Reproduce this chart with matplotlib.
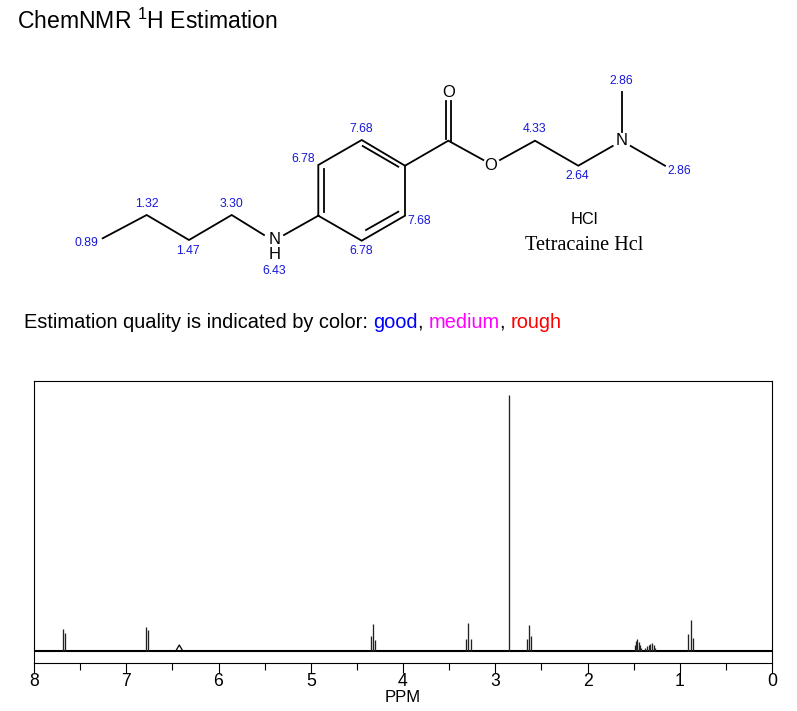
"""ChemNMR 1H estimation sheet for tetracaine HCl: structure drawing on top, spectrum below."""

import matplotlib
matplotlib.use("Agg")
import matplotlib.pyplot as plt

plt.rcParams["font.family"] = ["Liberation Sans", "DejaVu Sans"]
plt.rcParams["mathtext.fontset"] = "custom"
plt.rcParams["mathtext.rm"] = "Liberation Sans"
plt.rcParams["mathtext.default"] = "rm"

# sticks of the spectrum, ppm and height (height of 2.86 is about 256)
peak_ppm = [7.689, 7.664,
            6.783, 6.760,
            4.350, 4.325, 4.300,
            3.317, 3.292, 3.266,
            2.854,
            2.659, 2.634, 2.609,
            1.488, 1.474, 1.460, 1.445, 1.431, 1.417,
            1.373, 1.355, 1.337, 1.319, 1.301, 1.283, 1.265,
            0.907, 0.881, 0.856]
peak_height = [22, 18,
               24, 21,
               15, 27, 11,
               12, 28, 12,
               256,
               12, 26, 15,
               6, 10, 12, 9, 6, 3,
               3, 5, 6, 7, 8, 6, 3,
               17, 31, 13]

# broad NH hump
hump_ppm = [6.46, 6.425, 6.39]
hump_height = [0, 5.5, 0]

major_ticks = [8, 7, 6, 5, 4, 3, 2, 1, 0]
minor_ticks = [7.5, 6.5, 5.5, 4.5, 3.5, 2.5, 1.5, 0.5]

# structure, in picture coordinates
chain_x = [102.7, 146.7, 189, 231.7, 264]
chain_y = [238.3, 215, 240, 215, 235]
ring_x = [318.3, 318.3, 361.7, 405, 405, 361.7, 318.3]
ring_y = [215.7, 165, 140, 165.7, 215.7, 240.7, 215.7]
ester_x = [405, 448.3, 483.3]
ester_y = [165.7, 140.7, 160]
ethyl_x = [500, 535, 578.3, 612.7]
ethyl_y = [160, 140.7, 165.7, 146]

bond_x0 = [284, 630.7, 621.7, 445.7, 451, 324, 362.7, 366]
bond_y0 = [235, 146, 131.7, 139.3, 141.7, 169, 146, 230]
bond_x1 = [318.3, 665, 621.7, 445.7, 451, 324, 398.3, 398.3]
bond_y1 = [215.7, 165.7, 92.3, 100.7, 100.7, 211.7, 166.7, 211.7]

atom_labels = ["N", "H", "O", "O", "N"]
atom_x = [275, 275, 448.3, 491, 621.7]
atom_y = [240, 254.5, 92.5, 165.5, 140.5]

shift_labels = ["0.89", "1.32", "1.47", "3.30", "6.43", "6.78", "7.68", "7.68",
                "6.78", "4.33", "2.64", "2.86", "2.86"]
shift_x = [86, 147, 188.3, 231.3, 274.3, 302.7, 361.3, 419.3, 361.3, 534.3, 577.7, 621, 679]
shift_y = [243.3, 204, 251, 204, 271.3, 159.3, 129, 220.7, 250.7, 129.3, 176, 80.7, 170.7]

quality_parts = ["Estimation quality is indicated by color: ", "good", ", ", "medium", ", ", "rough"]
quality_colors = ["black", "#0000ff", "black", "#ff00ff", "black", "#ff0000"]


def draw_structure(ax):
    for xs, ys in [(chain_x, chain_y), (ring_x, ring_y), (ester_x, ester_y), (ethyl_x, ethyl_y)]:
        ax.plot(xs, ys, color="black", lw=1.3, solid_joinstyle="miter")
    for x0, y0, x1, y1 in zip(bond_x0, bond_y0, bond_x1, bond_y1):
        ax.plot([x0, x1], [y0, y1], color="black", lw=1.3)
    for lab, x, y in zip(atom_labels, atom_x, atom_y):
        ax.text(x, y, lab, fontsize=12, ha="center", va="center", color="black")
    for lab, x, y in zip(shift_labels, shift_x, shift_y):
        ax.text(x, y, lab, fontsize=8.8, ha="center", va="center", color="#1818d8")
    ax.text(584, 219, "HCl", fontsize=11.8, ha="center", va="center")
    ax.text(584, 245.5, "Tetracaine Hcl", fontsize=14.6, ha="center", va="center",
            family=["Liberation Serif"])


def draw_header(fig, ax):
    ax.text(17, 21, "ChemNMR $^{1}$H Estimation", fontsize=16.6, ha="left", va="center")

    # the quality line has coloured words, so lay the pieces end to end
    fig.canvas.draw()
    renderer = fig.canvas.get_renderer()
    size = 14.4
    y = 322
    x = 24
    for part, col in zip(quality_parts, quality_colors):
        t = ax.text(x, y, part, fontsize=size, color=col, ha="left", va="center")
        box = t.get_window_extent(renderer)
        # trailing spaces are not always counted in the extent
        if part.endswith(" "):
            probe = ax.text(x, y, part.rstrip() + " .", fontsize=size, alpha=0)
            dot = ax.text(0, y, ".", fontsize=size, alpha=0)
            x += probe.get_window_extent(renderer).width - dot.get_window_extent(renderer).width
            probe.remove()
            dot.remove()
        else:
            x += box.width


def draw_spectrum(ax):
    ax.plot([8, 0], [0, 0], color="black", lw=1.5)
    ax.vlines(peak_ppm, 0, peak_height, color="#222222", lw=0.95)
    ax.plot(hump_ppm, hump_height, color="black", lw=0.9)

    ax.set_xlim(8, 0)
    ax.set_ylim(-12.5, 269.5)
    ax.set_yticks([])
    ax.set_xticks(major_ticks)
    ax.set_xticks(minor_ticks, minor=True)
    ax.tick_params(axis="x", which="major", length=7.2, width=0.8, labelsize=12.7, pad=0)
    ax.tick_params(axis="x", which="minor", length=5, width=0.8)
    ax.set_xlabel("PPM", fontsize=12, labelpad=0)
    for spine in ax.spines.values():
        spine.set_linewidth(0.8)


def main():
    w, h = 797, 711
    fig = plt.figure(figsize=(w / 100, h / 100), dpi=100)

    top = fig.add_axes([0, 0, 1, 1])
    top.set_xlim(0, w)
    top.set_ylim(h, 0)
    top.axis("off")

    ax = fig.add_axes([34 / w, (h - 663) / h, (772 - 34) / w, (663 - 381) / h])

    draw_structure(top)
    draw_header(fig, top)
    draw_spectrum(ax)

    fig.savefig("out.png", dpi=100)
    plt.close(fig)


if __name__ == "__main__":
    main()
